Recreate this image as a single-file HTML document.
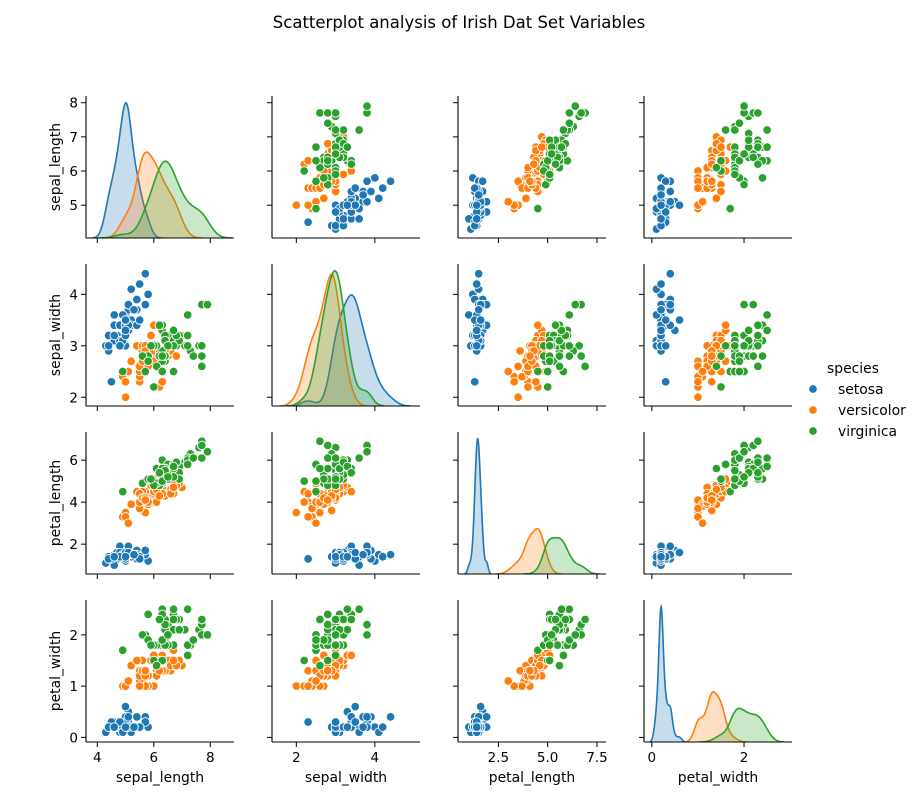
<!DOCTYPE html>
<html><head><meta charset="utf-8">
<style>
html,body{margin:0;padding:0;background:#fff;}
svg{display:block;font-family:"DejaVu Sans","Liberation Sans",sans-serif;}
</style></head>
<body>
<svg id="chart" width="917" height="800" viewBox="0 0 917 800" xmlns="http://www.w3.org/2000/svg">
<text x="459" y="28" font-size="16.5" text-anchor="middle" fill="#000">Scatterplot analysis of Irish Dat Set Variables</text>
</svg>
<script>
const speciesNames = ['setosa','versicolor','virginica'];
const speciesCounts = [50,50,50];
const speciesColors = ['#1f77b4','#ff7f0e','#2ca02c'];
const featureNames = ['sepal_length','sepal_width','petal_length','petal_width'];
const sepalLength = [5.1,4.9,4.7,4.6,5.0,5.4,4.6,5.0,4.4,4.9,5.4,4.8,4.8,4.3,5.8,5.7,5.4,5.1,5.7,5.1,5.4,5.1,4.6,5.1,4.8,5.0,5.0,5.2,5.2,4.7,4.8,5.4,5.2,5.5,4.9,5.0,5.5,4.9,4.4,5.1,5.0,4.5,4.4,5.0,5.1,4.8,5.1,4.6,5.3,5.0,
7.0,6.4,6.9,5.5,6.5,5.7,6.3,4.9,6.6,5.2,5.0,5.9,6.0,6.1,5.6,6.7,5.6,5.8,6.2,5.6,5.9,6.1,6.3,6.1,6.4,6.6,6.8,6.7,6.0,5.7,5.5,5.5,5.8,6.0,5.4,6.0,6.7,6.3,5.6,5.5,5.5,6.1,5.8,5.0,5.6,5.7,5.7,6.2,5.1,5.7,
6.3,5.8,7.1,6.3,6.5,7.6,4.9,7.3,6.7,7.2,6.5,6.4,6.8,5.7,5.8,6.4,6.5,7.7,7.7,6.0,6.9,5.6,7.7,6.3,6.7,7.2,6.2,6.1,6.4,7.2,7.4,7.9,6.4,6.3,6.1,7.7,6.3,6.4,6.0,6.9,6.7,6.9,5.8,6.8,6.7,6.7,6.3,6.5,6.2,5.9];
const sepalWidth = [3.5,3.0,3.2,3.1,3.6,3.9,3.4,3.4,2.9,3.1,3.7,3.4,3.0,3.0,4.0,4.4,3.9,3.5,3.8,3.8,3.4,3.7,3.6,3.3,3.4,3.0,3.4,3.5,3.4,3.2,3.1,3.4,4.1,4.2,3.1,3.2,3.5,3.6,3.0,3.4,3.5,2.3,3.2,3.5,3.8,3.0,3.8,3.2,3.7,3.3,
3.2,3.2,3.1,2.3,2.8,2.8,3.3,2.4,2.9,2.7,2.0,3.0,2.2,2.9,2.9,3.1,3.0,2.7,2.2,2.5,3.2,2.8,2.5,2.8,2.9,3.0,2.8,3.0,2.9,2.6,2.4,2.4,2.7,2.7,3.0,3.4,3.1,2.3,3.0,2.5,2.6,3.0,2.6,2.3,2.7,3.0,2.9,2.9,2.5,2.8,
3.3,2.7,3.0,2.9,3.0,3.0,2.5,2.9,2.5,3.6,3.2,2.7,3.0,2.5,2.8,3.2,3.0,3.8,2.6,2.2,3.2,2.8,2.8,2.7,3.3,3.2,2.8,3.0,2.8,3.0,2.8,3.8,2.8,2.8,2.6,3.0,3.4,3.1,3.0,3.1,3.1,3.1,2.7,3.2,3.3,3.0,2.5,3.0,3.4,3.0];
const petalLength = [1.4,1.4,1.3,1.5,1.4,1.7,1.4,1.5,1.4,1.5,1.5,1.6,1.4,1.1,1.2,1.5,1.3,1.4,1.7,1.5,1.7,1.5,1.0,1.7,1.9,1.6,1.6,1.5,1.4,1.6,1.6,1.5,1.5,1.4,1.5,1.2,1.3,1.4,1.3,1.5,1.3,1.3,1.3,1.6,1.9,1.4,1.6,1.4,1.5,1.4,
4.7,4.5,4.9,4.0,4.6,4.5,4.7,3.3,4.6,3.9,3.5,4.2,4.0,4.7,3.6,4.4,4.5,4.1,4.5,3.9,4.8,4.0,4.9,4.7,4.3,4.4,4.8,5.0,4.5,3.5,3.8,3.7,3.9,5.1,4.5,4.5,4.7,4.4,4.1,4.0,4.4,4.6,4.0,3.3,4.2,4.2,4.2,4.3,3.0,4.1,
6.0,5.1,5.9,5.6,5.8,6.6,4.5,6.3,5.8,6.1,5.1,5.3,5.5,5.0,5.1,5.3,5.5,6.7,6.9,5.0,5.7,4.9,6.7,4.9,5.7,6.0,4.8,4.9,5.6,5.8,6.1,6.4,5.6,5.1,5.6,6.1,5.6,5.5,4.8,5.4,5.6,5.1,5.1,5.9,5.7,5.2,5.0,5.2,5.4,5.1];
const petalWidth = [0.2,0.2,0.2,0.2,0.2,0.4,0.3,0.2,0.2,0.1,0.2,0.2,0.1,0.1,0.2,0.4,0.4,0.3,0.3,0.3,0.2,0.4,0.2,0.5,0.2,0.2,0.4,0.2,0.2,0.2,0.2,0.4,0.1,0.2,0.2,0.2,0.2,0.1,0.2,0.2,0.3,0.3,0.2,0.6,0.4,0.3,0.2,0.2,0.2,0.2,
1.4,1.5,1.5,1.3,1.5,1.3,1.6,1.0,1.3,1.4,1.0,1.5,1.0,1.4,1.3,1.4,1.5,1.0,1.5,1.1,1.8,1.3,1.5,1.2,1.3,1.4,1.4,1.7,1.5,1.0,1.1,1.0,1.2,1.6,1.5,1.6,1.5,1.3,1.3,1.3,1.2,1.4,1.2,1.0,1.3,1.2,1.3,1.3,1.1,1.3,
2.5,1.9,2.1,1.8,2.2,2.1,1.7,1.8,1.8,2.5,2.0,1.9,2.1,2.0,2.4,2.3,1.8,2.2,2.3,1.5,2.3,2.0,2.0,1.8,2.1,1.8,1.8,1.8,2.1,1.6,1.9,2.0,2.2,1.5,1.4,2.3,2.4,1.8,1.8,2.1,2.4,2.3,1.9,2.3,2.5,2.3,1.9,2.0,2.3,1.8];
const colTicks = [[4,6,8],[2,4],[2.5,5.0,7.5],[0,2]];
const colTickLabels = [['4','6','8'],['2','4'],['2.5','5.0','7.5'],['0','2']];
const rowTicks = [[5,6,7,8],[2,3,4],[2,4,6],[0,1,2]];
const rowTickLabels = [['5','6','7','8'],['2','3','4'],['2','4','6'],['0','1','2']];

const features = [sepalLength, sepalWidth, petalLength, petalWidth];
const NS = 'http://www.w3.org/2000/svg';
const svg = document.getElementById('chart');
const colLeft = [86,272,458,644], W = 148;
const rowTop = [96,264,432,600], H = 142;
const xLims = [[3.6,8.84],[1.38,5.15],[0.45,7.96],[-0.17,3.04]];
const yLims = [[4.04,8.196],[1.83,4.59],[0.58,7.34],[-0.09,2.68]];
function mk(tag, attrs, parent){const e=document.createElementNS(NS,tag);for(const k in attrs)e.setAttribute(k,attrs[k]);(parent||svg).appendChild(e);return e;}
function xs(c,v){const l=xLims[c];return colLeft[c]+(v-l[0])/(l[1]-l[0])*W;}
function ys(r,v){const l=yLims[r];return rowTop[r]+H-(v-l[0])/(l[1]-l[0])*H;}
function groupIdx(s){let st=0;for(let i=0;i<s;i++)st+=speciesCounts[i];return [st,st+speciesCounts[s]];}
function kde(vals){
  const n=vals.length;const mean=vals.reduce((a,b)=>a+b,0)/n;
  const sd=Math.sqrt(vals.reduce((a,b)=>a+(b-mean)*(b-mean),0)/(n-1));
  const bw=sd*Math.pow(n,-0.2);
  const lo=Math.min(...vals)-3*bw, hi=Math.max(...vals)+3*bw;
  const pts=[];
  for(let i=0;i<100;i++){const x=lo+(hi-lo)*i/99;let d=0;for(const v of vals){const z=(x-v)/bw;d+=Math.exp(-0.5*z*z);}d/=n*bw*Math.sqrt(2*Math.PI);pts.push([x,d]);}
  return pts;
}
const defs=mk('defs',{});
for(let r=0;r<4;r++){
  for(let c=0;c<4;c++){
    const g=mk('g',{});
    
    
    const cp=mk('clipPath',{id:'cp'+r+c},defs);
    mk('rect',{x:colLeft[c],y:rowTop[r],width:W,height:H},cp);
    const plot=mk('g',{'clip-path':'url(#cp'+r+c+')'},g);
    if(r===c){
      const curves=[];let mx=0;
      for(let s=0;s<3;s++){const [a,b]=groupIdx(s);const k=kde(features[c].slice(a,b));curves.push(k);for(const p of k)mx=Math.max(mx,p[1]);}
      const top=mx*1.05;const base=rowTop[r]+H;
      curves.forEach((k,s)=>{
        const pts=k.map(p=>[xs(c,p[0]),base-p[1]/top*H]);
        const line=pts.map((p,i)=>(i?'L':'M')+p[0].toFixed(2)+','+p[1].toFixed(2)).join('');
        const fill=mk('path',{d:line+'L'+pts[pts.length-1][0].toFixed(2)+','+base+'L'+pts[0][0].toFixed(2)+','+base+'Z',fill:speciesColors[s],'fill-opacity':0.25,stroke:'none'},plot);
        
        
        const ln=mk('path',{d:line,fill:'none',stroke:speciesColors[s],'stroke-width':1.6},plot);
        
        
      });
    } else {
      for(let s=0;s<3;s++){
        const [a,b]=groupIdx(s);
        for(let i=a;i<b;i++){
          const pt=mk('circle',{cx:xs(c,features[c][i]).toFixed(2),cy:ys(r,features[r][i]).toFixed(2),r:4.3,fill:speciesColors[s],stroke:'#fff','stroke-width':0.9},plot);
          
          
        }
      }
    }
    // spines
    const xb=colLeft[c], yb=rowTop[r]+H;
    mk('line',{x1:xb,y1:rowTop[r],x2:xb,y2:yb,stroke:'#000','stroke-width':1.1},g);
    mk('line',{x1:xb,y1:yb,x2:xb+W,y2:yb,stroke:'#000','stroke-width':1.1},g);
    colTicks[c].forEach((t,i)=>{
      const x=xs(c,t);
      mk('line',{x1:x,y1:yb,x2:x,y2:yb+5,stroke:'#000','stroke-width':1},g);
      if(r===3){const tl=mk('text',{x:x,y:yb+20,'font-size':13.5,'text-anchor':'middle'},g);tl.textContent=colTickLabels[c][i];
        
        }
    });
    rowTicks[r].forEach((t,i)=>{
      const y=ys(r,t);
      mk('line',{x1:xb-5,y1:y,x2:xb,y2:y,stroke:'#000','stroke-width':1},g);
      if(c===0){const tl=mk('text',{x:xb-8,y:y+5,'font-size':13.5,'text-anchor':'end'},g);tl.textContent=rowTickLabels[r][i];
        
        }
    });
    if(r===3){const xl=mk('text',{x:xb+W/2,y:782,'font-size':13.9,'text-anchor':'middle'},g);xl.textContent=featureNames[c];
      
      }
    if(c===0){const cy=rowTop[r]+H/2;const yl=mk('text',{x:0,y:0,'font-size':13.9,'text-anchor':'middle',transform:'translate(60,'+cy+') rotate(-90)'},g);yl.textContent=featureNames[r];
      
      }
  }
}
// legend
const lg=mk('g',{});


const lt=mk('text',{x:853,y:373,'font-size':13.9,'text-anchor':'middle'},lg);lt.textContent='species';


speciesNames.forEach((n,s)=>{
  const y=389+s*21;
  const e=mk('g',{},lg);
  
  
  mk('circle',{cx:813,cy:y,r:4.3,fill:speciesColors[s],stroke:'#fff','stroke-width':0.9},e);
  const t=mk('text',{x:838,y:y+5,'font-size':13.9},e);t.textContent=n;
});
</script>
</body></html>
